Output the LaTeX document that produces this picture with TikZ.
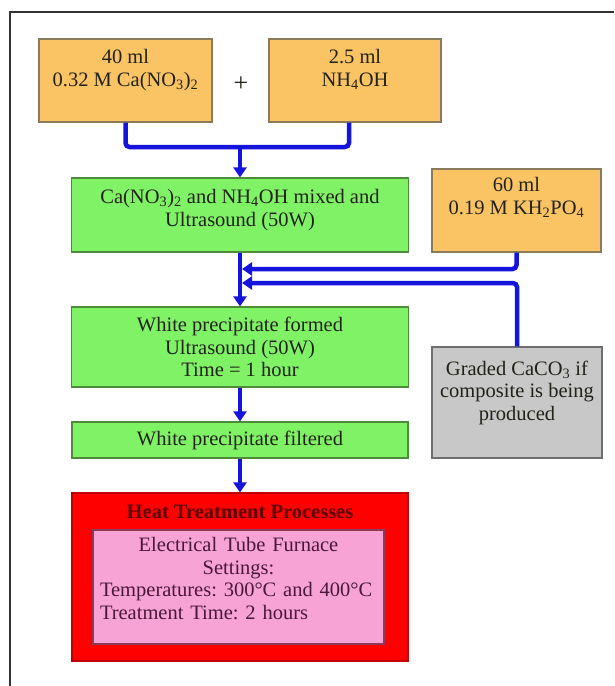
\documentclass[tikz,border=0pt]{standalone}
\usepackage{fontspec}
\setmainfont{Liberation Serif}
\usetikzlibrary{arrows.meta,positioning}
\frenchspacing

\definecolor{orangefill}{HTML}{FAC364}
\definecolor{orangeline}{HTML}{8C7B5A}
\definecolor{greenfill}{HTML}{80F266}
\definecolor{greenline}{HTML}{4E8C3C}
\definecolor{grayfill}{HTML}{C8C8C8}
\definecolor{grayline}{HTML}{6E6E6E}
\definecolor{redline}{HTML}{C00000}
\definecolor{pinkfill}{HTML}{F7A3D6}
\definecolor{pinkline}{HTML}{8B3A5A}
\definecolor{flowblue}{HTML}{1414DC}
\definecolor{darktext}{HTML}{222218}
\definecolor{pinktext}{HTML}{4A1838}
\definecolor{headtext}{HTML}{5C0000}

\begin{document}
\begin{tikzpicture}[x=1pt,y=-1pt,>={Triangle[width=13pt,length=10pt]},
    box/.style={line width=1.2pt, inner sep=0pt},
    obox/.style={box, fill=orangefill, draw=orangeline},
    gbox/.style={box, fill=greenfill, draw=greenline},
    txt/.style={inner sep=0pt, align=center, text=darktext,
        font=\fontsize{20.5}{22.5}\selectfont},
    flow/.style={draw=flowblue, line width=4.5pt, rounded corners=4pt}]
    \useasboundingbox (0,0) rectangle (614,686);
    \fill[white] (0,0) rectangle (614,686);
    \draw[line width=1.3pt, black!80] (10,686) -- (10,12) -- (614,12);

    % starting solutions
    \node[obox, minimum width=173pt, minimum height=83pt] (ca) at (125.5,80.5) {};
    \node[txt, below=11pt of ca.north] (ca-t) {40 ml\\0.32 M Ca(NO\textsubscript{3})\textsubscript{2}};
    \node[obox, minimum width=172pt, minimum height=83pt] (nh) at (355,80.5) {};
    \node[txt, below=11pt of nh.north] (nh-t) {2.5 ml\\NH\textsubscript{4}OH};
    \node[txt, font=\fontsize{26}{26}\selectfont] (plus) at (241,84) {+};
    \node[obox, minimum width=169pt, minimum height=83pt] (kh) at (516.5,210.5) {};
    \node[txt, below=9pt of kh.north] (kh-t) {60 ml\\0.19 M KH\textsubscript{2}PO\textsubscript{4}};
    \node[box, fill=grayfill, draw=grayline, minimum width=170pt, minimum height=111pt] (caco) at (517,402.5) {};
    \node[txt, below=14pt of caco.north] (caco-t) {Graded CaCO\textsubscript{3} if\\composite is being\\produced};

    % process steps
    \node[gbox, minimum width=337pt, minimum height=74pt] (mix) at (240,215) {};
    \node[txt, below=12pt of mix.north] (mix-t) {Ca(NO\textsubscript{3})\textsubscript{2} and NH\textsubscript{4}OH mixed and\\Ultrasound (50W)};
    \node[gbox, txt, minimum width=337pt, minimum height=80pt] (ppt) at (240,347) {White precipitate formed\\Ultrasound (50W)\\Time = 1 hour};
    \node[gbox, txt, minimum width=336pt, minimum height=36pt] (filt) at (240,440) {White precipitate filtered};

    % heat treatment
    \node[box, fill=red, draw=redline, minimum width=336pt, minimum height=168pt] (heat) at (240,577) {};
    \node[txt, text=headtext, font=\fontsize{20.5}{22.5}\selectfont\bfseries] (heat-t) at (240,512) {Heat Treatment Processes};
    \node[box, fill=pinkfill, draw=pinkline, minimum width=291pt, minimum height=114pt] (furn) at (238.5,587) {};
    \node[txt, text=pinktext, align=left, text width=277pt, below=8pt of furn.north] (furn-t)
        {{\centering Electrical Tube Furnace\par Settings:\par}
         {\raggedright Temperatures: 300°C and 400°C\par Treatment Time: 2 hours\par}};

    % connectors
    \coordinate (join) at (240,147);
    \coordinate (inkh) at (242,269);
    \coordinate (incaco) at (242,283);
    \draw[flow] (ca.south) |- (join) -| ([xshift=-6pt]nh.south);
    \draw[flow,->] (join) -- (mix.north);
    \draw[flow,->] (mix.south) -- (ppt.north);
    \draw[flow,->] (kh.south) |- (inkh);
    \draw[flow,->] (caco.north) |- (incaco);
    \draw[flow,->] (ppt.south) -- (filt.north);
    \draw[flow,->] (filt.south) -- (heat.north);
\end{tikzpicture}
\end{document}
